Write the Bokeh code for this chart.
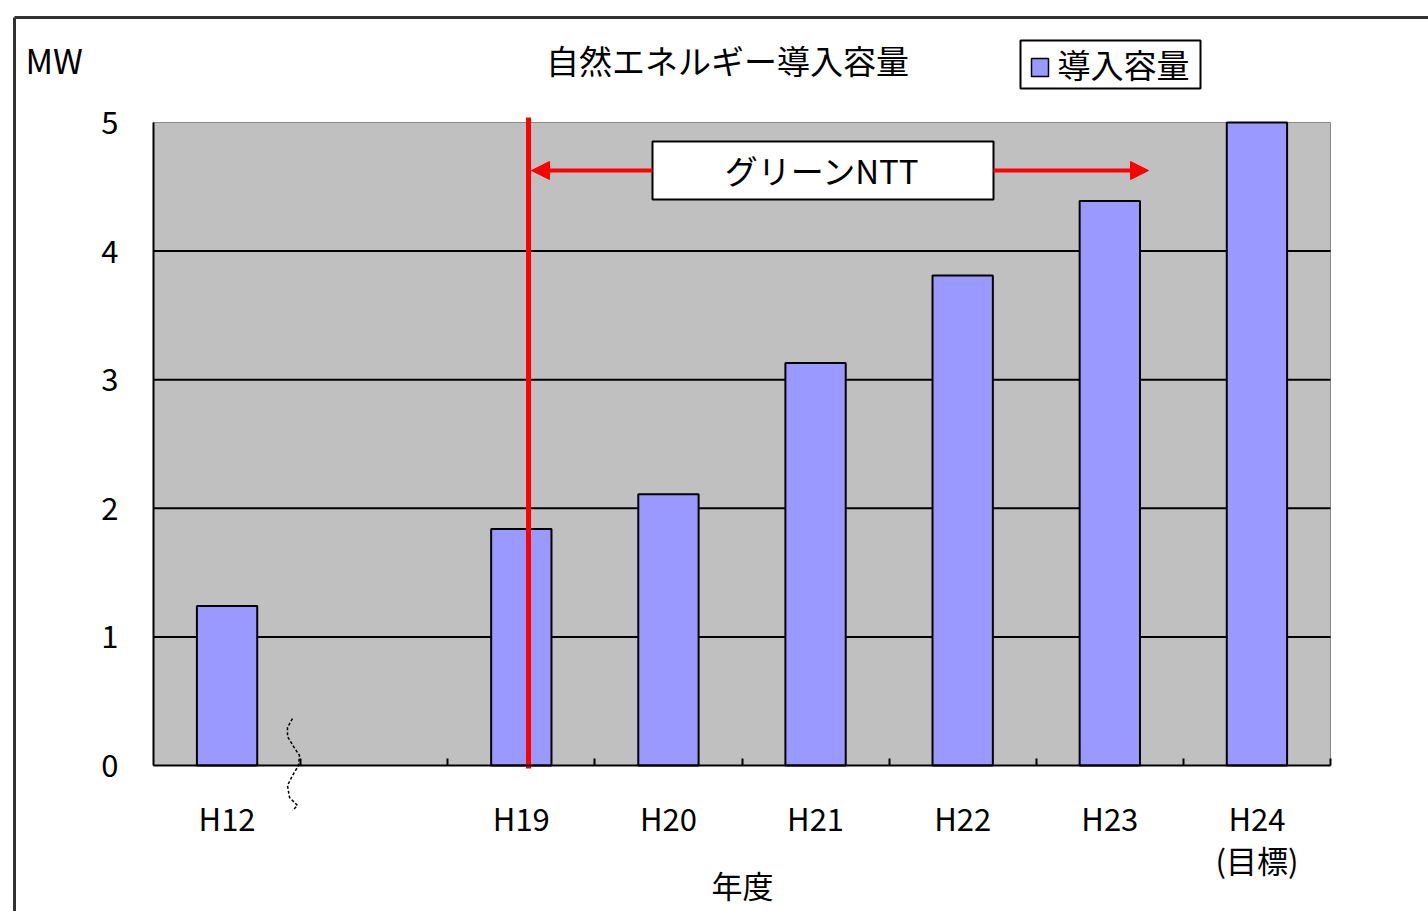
from bokeh.plotting import figure
from bokeh.models import (Range1d, FixedTicker, Arrow, NormalHead, Label)
from bokeh.embed import file_html
from bokeh.resources import INLINE

# ---- data ----
categories = ["H12", " ", "H19", "H20", "H21", "H22", "H23", "H24\n(目標)"]
years = ["H12", "H19", "H20", "H21", "H22", "H23", "H24\n(目標)"]
capacity_mw = [1.24, 1.84, 2.11, 3.13, 3.81, 4.39, 5.0]
y_ticks = [0, 1, 2, 3, 4, 5]
title_text = "自然エネルギー導入容量"
series_name = "導入容量"
unit_text = "MW"
x_title = "年度"
period_text = "グリーンNTT"

FONT = "Noto Sans CJK JP"
BAR_COLOR = "#9999FF"
W, H = 1428, 911
# plot-area pixel box inside the canvas
PL, PR, PT, PB = 153, 1330, 122, 765
n_slots = len(categories)
y_max = max(y_ticks)
ux = (PR - PL) / n_slots       # px per category slot
uy = (PB - PT) / y_max         # px per MW


def dx(sx):
    return (sx - PL) / ux


def dy(sy):
    return (PB - sy) / uy


p = figure(width=W, height=H,
           x_range=Range1d(dx(0), dx(W)), y_range=Range1d(dy(H), dy(0)),
           output_backend="svg", toolbar_location=None,
           min_border_left=0, min_border_right=0, min_border_top=0, min_border_bottom=0)
p.background_fill_color = "white"
p.border_fill_color = "white"
p.outline_line_color = None
p.xgrid.visible = False
p.ygrid.visible = False

# plot area
p.quad(left=[0], right=[n_slots], bottom=[0], top=[y_max], fill_color="#C0C0C0",
       line_color="#8a8a8a", line_width=1, level="image")
# horizontal grid lines
grid_y = y_ticks[1:-1]
p.segment(x0=[0] * len(grid_y), x1=[n_slots] * len(grid_y), y0=grid_y, y1=grid_y,
          line_color="black", line_width=2, level="underlay")

# bars
bar_x = [categories.index(y) + 0.5 for y in years]
bars = p.vbar(x=bar_x, top=capacity_mw, width=0.41, fill_color=BAR_COLOR,
              line_color="black", line_width=2)

# x axis
xa = p.xaxis[0]
xa.fixed_location = 0
xa.bounds = (0, n_slots)
xa.ticker = FixedTicker(ticks=[i + 0.5 for i in range(n_slots)],
                        minor_ticks=list(range(1, n_slots + 1)))
xa.major_label_overrides = {i + 0.5: c for i, c in enumerate(categories)}
xa.major_tick_line_color = None
xa.minor_tick_line_color = "black"
xa.minor_tick_line_width = 2
xa.minor_tick_in = 7
xa.minor_tick_out = 0
xa.axis_line_color = "black"
xa.axis_line_width = 2
xa.major_label_text_font = FONT
xa.major_label_text_font_size = "31px"
xa.major_label_text_color = "black"
xa.major_label_text_line_height = 0.95
xa.major_label_standoff = 23

# y axis
ya = p.yaxis[0]
ya.fixed_location = 0
ya.bounds = (0, y_max)
ya.ticker = y_ticks
ya.major_tick_line_color = None
ya.minor_tick_line_color = None
ya.axis_line_color = "black"
ya.axis_line_width = 2
ya.major_label_text_font = FONT
ya.major_label_text_font_size = "31px"
ya.major_label_text_color = "black"
ya.major_label_standoff = 29

# red period marker
p.segment(x0=[dx(528)], x1=[dx(528)], y0=[dy(768)], y1=[dy(117)],
          line_color="#FF0000", line_width=5)
for xs_, xe_ in [(652, 531), (993, 1148)]:
    p.add_layout(Arrow(x_start=dx(xs_), y_start=dy(170), x_end=dx(xe_), y_end=dy(170),
                       line_color="#FF0000", line_width=4,
                       end=NormalHead(size=18, fill_color="#FF0000", line_color="#FF0000")))
p.quad(left=[dx(652)], right=[dx(993)], top=[dy(141)], bottom=[dy(199)],
       fill_color="white", line_color="black", line_width=2)
p.add_layout(Label(x=dx(822), y=dy(169), text=period_text, text_font=FONT,
                   text_font_size="33px", text_align="center", text_baseline="middle",
                   text_color="black"))

# break mark (squiggle)
sq_sx = [292, 287, 287, 293, 299, 298, 292, 287, 289, 297, 292]
sq_sy = [718, 727, 736, 746, 755, 765, 775, 785, 797, 805, 810]
p.line(x=[dx(v) for v in sq_sx], y=[dy(v) for v in sq_sy], line_color="black",
       line_width=1.5, line_dash="3 2")

# texts
p.add_layout(Label(x=dx(25), y=dy(59), text=unit_text, text_font=FONT,
                   text_font_size="34px", text_align="left", text_baseline="middle",
                   text_color="black"))
p.add_layout(Label(x=dx(727), y=dy(59), text=title_text, text_font=FONT,
                   text_font_size="33px", text_align="center", text_baseline="middle",
                   text_color="black"))
p.add_layout(Label(x=dx(742), y=dy(884), text=x_title, text_font=FONT,
                   text_font_size="31px", text_align="center", text_baseline="middle",
                   text_color="black"))

# outer frame lines
p.segment(x0=[dx(14), dx(14)], x1=[dx(14), dx(W + 5)], y0=[dy(17), dy(17)],
          y1=[dy(H + 5), dy(17)], line_color="#333333", line_width=3)

# legend box (drawn to match the original's compact box)
p.quad(left=[dx(1020)], right=[dx(1200)], top=[dy(40)], bottom=[dy(88)],
       fill_color="white", line_color="black", line_width=2)
p.quad(left=[dx(1031)], right=[dx(1048)], top=[dy(58)], bottom=[dy(76)],
       fill_color=BAR_COLOR, line_color="black", line_width=1.5)
p.add_layout(Label(x=dx(1057), y=dy(63), text=series_name, text_font=FONT,
                   text_font_size="33px", text_align="left", text_baseline="middle",
                   text_color="black"))

open("out.html", "w").write(file_html(p, INLINE))
